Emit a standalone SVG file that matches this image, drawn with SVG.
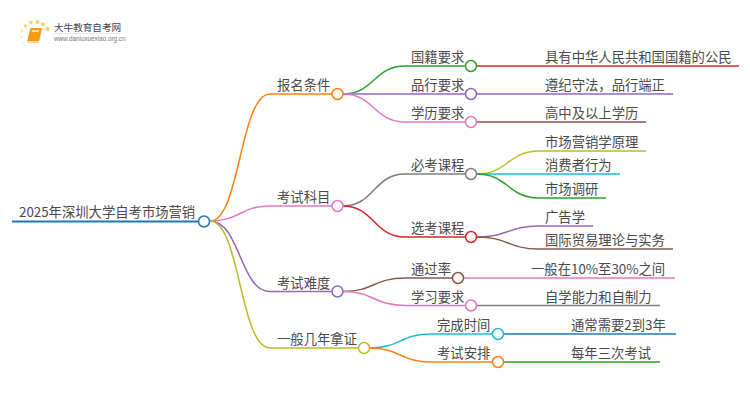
<svg xmlns="http://www.w3.org/2000/svg" width="750" height="410" viewBox="0 0 750 410">
<style>
text{font-family:"Noto Sans CJK SC","Liberation Sans",sans-serif;font-size:13.33px;fill:#4a4a4a}
#connectors path{fill:none;stroke-width:1.5}
#connectors path.root{stroke-width:2}
circle{fill:#fff;stroke-width:1.5}
.dot{stroke:none;fill:#fbd46d}
.dot2{stroke:none;fill:#fde6b0}
.o{stroke:#ff7f0e}.g{stroke:#2ca02c}.p{stroke:#9467bd}.k{stroke:#e377c2}.b{stroke:#8c564b}.y{stroke:#7f7f7f}.l{stroke:#bcbd22}.c{stroke:#17becf}.r{stroke:#d62728}.u{stroke:#1f77b4}
</style>
<rect width="750" height="410" fill="#fff"/>
<g id="logo">
<circle class="dot" cx="25.500" cy="26" r="1.800"/><circle class="dot" cx="31" cy="22.500" r="1.800"/><circle class="dot" cx="37.500" cy="22" r="2"/><circle class="dot" cx="43" cy="24.500" r="2"/><circle class="dot" cx="47.500" cy="29" r="2.200"/><circle class="dot2" cx="22" cy="31" r="1.400"/><circle class="dot2" cx="21.500" cy="37" r="1.200"/><circle class="dot2" cx="23.500" cy="43" r="1"/>
<path d="M30.500 28h11.500l-2.800 13h-12z" fill="#f39a12"/>
<path d="M27 41.500h12l-.6 1.300h-11z" fill="#f7c46a"/>
<path d="M32 30h7l-.4 2h-7z" fill="#fde0a0"/>
<text x="54" y="30.500" style="font-size:9.600px;fill:#444">大牛教育自考网</text>
<path d="M54 33.500h68" stroke="#ddd" stroke-width=".6"/>
<text x="54" y="41" style="font-size:6.300px;fill:#777;font-family:'Liberation Sans',sans-serif">www.daniuxuexiao.org.cn</text>
</g>
<g id="connectors">
<path class="u root" d="M12 221.500H198"/>
<path class="o" d="M210 221C240 221 240 94 270 94H332"/>
<path class="k" d="M210 221C240 221 240 206 270 206H332"/>
<path class="p" d="M210 221C240 221 240 291.500 270 291.500H332"/>
<path class="l" d="M210 221C240 221 240 348 270 348H359"/>
<path class="g" d="M343 94C374 94 374 66 405 66H466"/>
<path class="p" d="M343 94H466"/>
<path class="k" d="M343 94C374 94 374 122 405 122H466"/>
<path class="r" d="M477 66H739"/>
<path class="p" d="M477 94H673"/>
<path class="b" d="M477 122H646"/>
<path class="y" d="M343 206C374 206 374 174 405 174H466"/>
<path class="r" d="M343 206C374 206 374 237 405 237H466"/>
<path class="l" d="M477 174C508 174 508 151 539 151H646"/>
<path class="c" d="M477 174H620"/>
<path class="g" d="M477 174C508 174 508 198 539 198H606"/>
<path class="p" d="M477 237C508 237 508 226 539 226H593"/>
<path class="b" d="M477 237C508 237 508 249 539 249H673"/>
<path class="b" d="M343 291.500C374 291.500 374 278 405 278H453"/>
<path class="k" d="M343 291.500C374 291.500 374 305.500 405 305.500H466"/>
<path class="k" d="M464 278H675"/>
<path class="y" d="M477 305.500H660"/>
<path class="c" d="M370 348C400 348 400 334 431 334H493"/>
<path class="o" d="M370 348C400 348 400 362 431 362H493"/>
<path class="u" d="M503 334H676"/>
<path class="g" d="M503 362H660"/>
</g>
<g id="root"><circle class="u" cx="204" cy="221.500" r="5.500"/><text x="19" y="217">2025年深圳大学自考市场营销</text></g>
<g id="n1"><circle class="o" cx="337.500" cy="94" r="5.500"/><text x="277" y="90">报名条件</text></g>
<g id="n11"><circle class="g" cx="471" cy="66" r="5.500"/><text x="411" y="62">国籍要求</text></g>
<g id="n111"><text x="545" y="62">具有中华人民共和国国籍的公民</text></g>
<g id="n12"><circle class="p" cx="471" cy="94" r="5.500"/><text x="411" y="90">品行要求</text></g>
<g id="n121"><text x="545" y="90">遵纪守法，品行端正</text></g>
<g id="n13"><circle class="k" cx="471" cy="122" r="5.500"/><text x="411" y="118">学历要求</text></g>
<g id="n131"><text x="545" y="118">高中及以上学历</text></g>
<g id="n2"><circle class="k" cx="337.500" cy="206" r="5.500"/><text x="277" y="202">考试科目</text></g>
<g id="n21"><circle class="y" cx="471" cy="174" r="5.500"/><text x="411" y="170">必考课程</text></g>
<g id="n211"><text x="545" y="147">市场营销学原理</text></g>
<g id="n212"><text x="545" y="170">消费者行为</text></g>
<g id="n213"><text x="545" y="194">市场调研</text></g>
<g id="n22"><circle class="r" cx="471" cy="237" r="5.500"/><text x="411" y="233">选考课程</text></g>
<g id="n221"><text x="545" y="222">广告学</text></g>
<g id="n222"><text x="545" y="245">国际贸易理论与实务</text></g>
<g id="n3"><circle class="p" cx="337.500" cy="291.500" r="5.500"/><text x="277" y="287.500">考试难度</text></g>
<g id="n31"><circle class="b" cx="458" cy="278" r="5.500"/><text x="411" y="274">通过率</text></g>
<g id="n311"><text x="531" y="274">一般在10%至30%之间</text></g>
<g id="n32"><circle class="k" cx="471" cy="305.500" r="5.500"/><text x="411" y="301.500">学习要求</text></g>
<g id="n321"><text x="545" y="301.500">自学能力和自制力</text></g>
<g id="n4"><circle class="l" cx="364" cy="348" r="5.500"/><text x="277" y="344">一般几年拿证</text></g>
<g id="n41"><circle class="c" cx="498" cy="334" r="5.500"/><text x="437" y="330">完成时间</text></g>
<g id="n411"><text x="571" y="330">通常需要2到3年</text></g>
<g id="n42"><circle class="o" cx="498" cy="362" r="5.500"/><text x="437" y="358">考试安排</text></g>
<g id="n421"><text x="571" y="358">每年三次考试</text></g>
</svg>
